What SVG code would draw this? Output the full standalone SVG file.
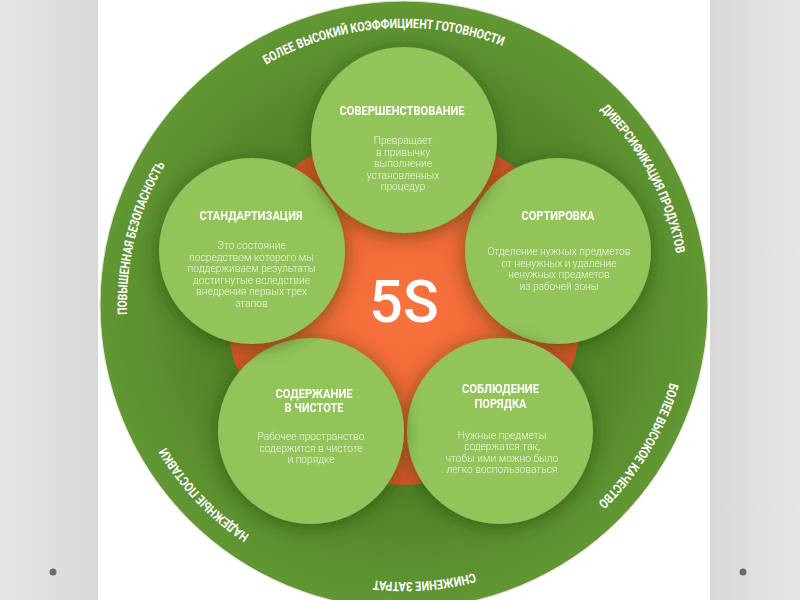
<svg xmlns="http://www.w3.org/2000/svg" xmlns:xlink="http://www.w3.org/1999/xlink" width="800" height="600" viewBox="0 0 800 600">
<defs>
<linearGradient id="sideL" x1="0" y1="0" x2="1" y2="0"><stop offset="0" stop-color="#e6e6e6"/><stop offset="1" stop-color="#d8d8d8"/></linearGradient>
<linearGradient id="sideR" x1="0" y1="0" x2="1" y2="0"><stop offset="0" stop-color="#d8d8d8"/><stop offset="1" stop-color="#e6e6e6"/></linearGradient>
<radialGradient id="ringG" cx="0.5" cy="0.5" r="0.5"><stop offset="0.6" stop-color="#4f8126"/><stop offset="0.85" stop-color="#5b8f2f"/><stop offset="1" stop-color="#629734"/></radialGradient>
<radialGradient id="orG" cx="0.5" cy="0.5" r="0.5"><stop offset="0" stop-color="#f7743f"/><stop offset="0.7" stop-color="#ee6331"/><stop offset="1" stop-color="#dc5427"/></radialGradient>
<filter id="sh" x="-30%" y="-30%" width="160%" height="160%">
<feGaussianBlur in="SourceAlpha" stdDeviation="9"/>
<feOffset dx="0" dy="3" result="b"/>
<feFlood flood-color="#1e3a0a" flood-opacity="0.55"/>
<feComposite in2="b" operator="in"/>
<feMerge><feMergeNode/><feMergeNode in="SourceGraphic"/></feMerge>
</filter>
<path id="ringPath" d="M542.5,544.9 A277,277 0 1,1 265.5,65.1 A277,277 0 1,1 542.5,544.9"/>
</defs>
<style>
.node{fill:#93c45a}
.title{font-family:Roboto,"Liberation Sans",sans-serif;font-weight:700;font-size:13px;fill:#ffffff;text-anchor:middle}
.body{font-family:Roboto,"Liberation Sans",sans-serif;font-weight:300;font-size:10.2px;fill:#eef5e4;text-anchor:middle}
.ring{font-family:Roboto,"Liberation Sans",sans-serif;font-weight:700;font-size:13px;fill:#ffffff}
</style>
<rect x="0" y="0" width="800" height="600" fill="#ffffff"/>
<rect x="0" y="0" width="98" height="600" fill="url(#sideL)"/>
<rect x="710" y="0" width="90" height="600" fill="url(#sideR)"/>
<circle cx="53" cy="572" r="3.5" fill="#6b6b6b"/>
<circle cx="743" cy="572" r="3.5" fill="#6b6b6b"/>

<g id="ring">
<circle cx="404" cy="305" r="304" fill="url(#ringG)" stroke="#dfe9d6" stroke-width="1"/>
<text class="ring"><textPath xlink:href="#ringPath" href="#ringPath" startOffset="7.17%" text-anchor="middle" textLength="102" lengthAdjust="spacingAndGlyphs">СНИЖЕНИЕ ЗАТРАТ</textPath></text>
<text class="ring"><textPath xlink:href="#ringPath" href="#ringPath" startOffset="21.25%" text-anchor="middle" textLength="122" lengthAdjust="spacingAndGlyphs">НАДЕЖНЫЕ ПОСТАВКИ</textPath></text>
<text class="ring"><textPath xlink:href="#ringPath" href="#ringPath" startOffset="37.28%" text-anchor="middle" textLength="157" lengthAdjust="spacingAndGlyphs">ПОВЫШЕННАЯ БЕЗОПАСНОСТЬ</textPath></text>
<text class="ring"><textPath xlink:href="#ringPath" href="#ringPath" startOffset="57.08%" text-anchor="middle" textLength="245" lengthAdjust="spacingAndGlyphs">БОЛЕЕ ВЫСОКИЙ КОЭФФИЦИЕНТ ГОТОВНОСТИ</textPath></text>
<text class="ring"><textPath xlink:href="#ringPath" href="#ringPath" startOffset="75.61%" text-anchor="middle" textLength="166" lengthAdjust="spacingAndGlyphs">ДИВЕРСИФИКАЦИЯ ПРОДУКТОВ</textPath></text>
<text class="ring"><textPath xlink:href="#ringPath" href="#ringPath" startOffset="91.92%" text-anchor="middle" textLength="142" lengthAdjust="spacingAndGlyphs">БОЛЕЕ ВЫСОКОЕ КАЧЕСТВО</textPath></text>
</g>

<g id="core">
<circle cx="404" cy="307" r="178" fill="url(#orG)"/>
<text x="404" y="322" font-family="Roboto,'Liberation Sans',sans-serif" font-weight="500" font-size="59" fill="#ffffff" text-anchor="middle">5S</text>
</g>

<g id="n-sort" filter="url(#sh)">
<circle class="node" cx="558" cy="251" r="93"/>
<text class="title" x="558" y="220" textLength="73" lengthAdjust="spacingAndGlyphs">СОРТИРОВКА</text>
<text class="body" x="559" y="255">Отделение нужных предметов</text>
<text class="body" x="559" y="266.5">от ненужных и удаление</text>
<text class="body" x="559" y="278">ненужных предметов</text>
<text class="body" x="559" y="289.5">из рабочей зоны</text>
</g>

<g id="n-order" filter="url(#sh)">
<circle class="node" cx="500" cy="431" r="93"/>
<text class="title" x="500.5" y="393" textLength="77" lengthAdjust="spacingAndGlyphs">СОБЛЮДЕНИЕ</text>
<text class="title" x="500.5" y="408" textLength="52" lengthAdjust="spacingAndGlyphs">ПОРЯДКА</text>
<text class="body" x="502" y="438.5">Нужные предметы</text>
<text class="body" x="502" y="450">содержатся так,</text>
<text class="body" x="502" y="461.5">чтобы ими можно было</text>
<text class="body" x="502" y="473">легко воспользоваться</text>
</g>

<g id="n-clean" filter="url(#sh)">
<circle class="node" cx="311" cy="431" r="93"/>
<text class="title" x="314" y="398" textLength="77" lengthAdjust="spacingAndGlyphs">СОДЕРЖАНИЕ</text>
<text class="title" x="314" y="412" textLength="59" lengthAdjust="spacingAndGlyphs">В ЧИСТОТЕ</text>
<text class="body" x="311" y="440">Рабочее пространство</text>
<text class="body" x="311" y="451.5">содержится в чистоте</text>
<text class="body" x="311" y="463">и порядке</text>
</g>

<g id="n-std" filter="url(#sh)">
<circle class="node" cx="252" cy="251" r="93"/>
<text class="title" x="251" y="220" textLength="103" lengthAdjust="spacingAndGlyphs">СТАНДАРТИЗАЦИЯ</text>
<text class="body" x="251.5" y="249">Это состояние</text>
<text class="body" x="251.5" y="260.5">посредством которого мы</text>
<text class="body" x="251.5" y="272">поддерживаем результаты</text>
<text class="body" x="251.5" y="283.5">достигнутые вследствие</text>
<text class="body" x="251.5" y="295">внедрения первых трех</text>
<text class="body" x="251.5" y="306.5">этапов</text>
</g>

<g id="n-improve" filter="url(#sh)">
<circle class="node" cx="404" cy="140" r="93"/>
<text class="title" x="402" y="115" textLength="125" lengthAdjust="spacingAndGlyphs">СОВЕРШЕНСТВОВАНИЕ</text>
<text class="body" x="403" y="144">Превращает</text>
<text class="body" x="403" y="155.5">в привычку</text>
<text class="body" x="403" y="167">выполнение</text>
<text class="body" x="403" y="178.5">установленных</text>
<text class="body" x="403" y="190">процедур</text>
</g>
</svg>
